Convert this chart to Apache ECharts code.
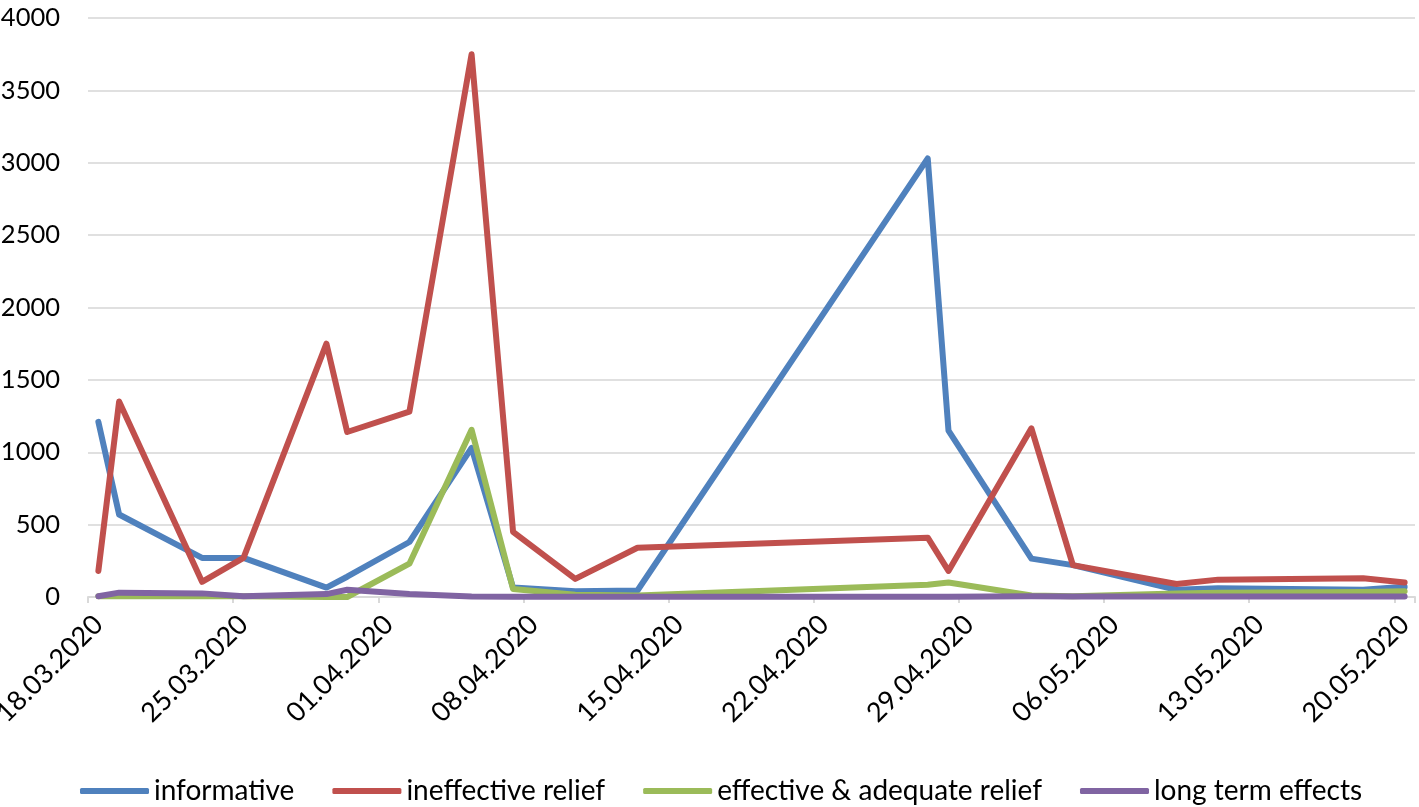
<!DOCTYPE html>
<html>
<head>
<meta charset="utf-8">
<script src="https://cdn.jsdelivr.net/npm/echarts@6/dist/echarts.min.js"></script>
<style>
html,body{margin:0;padding:0;background:#fff;}
#chart{width:1419px;height:807px;}
</style>
</head>
<body>
<div id="chart"></div>
<script>
// Axis: every day from 18.03.2020 to 20.05.2020 (64 days)
const startDate = [2020, 2, 18];
const dayCount = 64;
const yTicks = [0, 500, 1000, 1500, 2000, 2500, 3000, 3500, 4000];

// Dates that carry data
const pointDates = ['18.03.2020','19.03.2020','23.03.2020','25.03.2020','29.03.2020','30.03.2020','02.04.2020','05.04.2020','07.04.2020','10.04.2020','13.04.2020','27.04.2020','28.04.2020','02.05.2020','04.05.2020','09.05.2020','11.05.2020','18.05.2020','20.05.2020'];

const informative  = [1210, 570, 270, 270, 65, 140, 380, 1030, 65, 40, 45, 3030, 1150, 265, 220, 50, 60, 50, 70];
const ineffective  = [180, 1350, 105, 270, 1750, 1140, 1280, 3750, 450, 125, 340, 410, 180, 1165, 220, 90, 120, 130, 100];
const effective    = [5, 5, 5, 5, 0, 0, 230, 1155, 55, 15, 10, 85, 100, 10, 5, 25, 30, 35, 40];
const longTerm     = [5, 30, 25, 5, 20, 50, 20, 3, 2, 2, 2, 2, 2, 5, 3, 3, 3, 3, 3];

const seriesNames = ['informative', 'ineffective relief', 'effective & adequate relief', 'long term effects'];
const seriesColors = ['#4F81BD', '#C0504D', '#9BBB59', '#8064A2'];
const seriesValues = [informative, ineffective, effective, longTerm];

function pad(n){ return (n < 10 ? '0' : '') + n; }
const categories = [];
for (let i = 0; i < dayCount; i++) {
  const d = new Date(startDate[0], startDate[1], startDate[2] + i);
  categories.push(pad(d.getDate()) + '.' + pad(d.getMonth() + 1) + '.' + d.getFullYear());
}

function toSeriesData(vals) {
  const arr = categories.map(() => null);
  pointDates.forEach((dt, i) => {
    const idx = categories.indexOf(dt);
    if (idx >= 0) arr[idx] = vals[i];
  });
  return arr;
}

const FONT = 'Lato';
const FS = 28;

const chart = echarts.init(document.getElementById('chart'), null, {renderer: 'canvas'});
chart.setOption({
  animation: false,
  backgroundColor: '#ffffff',
  color: seriesColors,
  grid: {left: 88, right: 4, top: 18, bottom: 210, containLabel: false, outerBoundsMode: 'none'},
  legend: {
    data: seriesNames,
    left: 75,
    top: 772,
    icon: 'roundRect',
    itemWidth: 69,
    itemHeight: 6,
    itemGap: 38,
    textStyle: {fontFamily: FONT, fontSize: FS, color: '#000'}
  },
  xAxis: {
    type: 'category',
    data: categories,
    boundaryGap: true,
    axisLine: {show: true, lineStyle: {color: '#d9d9d9', width: 2}},
    axisTick: {show: true, interval: 6, length: 6, lineStyle: {color: '#d9d9d9', width: 2}},
    axisLabel: {
      interval: 6,
      rotate: 45,
      margin: 23,
      fontFamily: FONT,
      fontSize: 27,
      color: '#000'
    },
    splitLine: {show: false}
  },
  yAxis: {
    type: 'value',
    min: yTicks[0],
    max: yTicks[yTicks.length - 1],
    interval: yTicks[1] - yTicks[0],
    axisLine: {show: false},
    axisTick: {show: false},
    axisLabel: {margin: 28, fontFamily: FONT, fontSize: 25.5, color: '#000', formatter: v => String(v)},
    splitLine: {lineStyle: {color: '#e0e0e0', width: 2}}
  },
  series: seriesNames.map((name, i) => ({
    name: name,
    type: 'line',
    data: toSeriesData(seriesValues[i]),
    connectNulls: true,
    showSymbol: false,
    symbol: 'none',
    lineStyle: {width: 6, color: seriesColors[i], join: 'round', cap: 'round'},
    itemStyle: {color: seriesColors[i]}
  }))
});
</script>
</body>
</html>
